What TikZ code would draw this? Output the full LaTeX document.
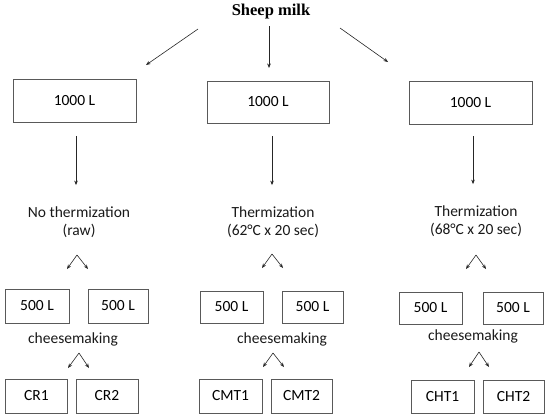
\documentclass[tikz,border=0pt]{standalone}
\usepackage{fontspec}
\setmainfont{Carlito}
\newfontfamily\titlefont{Liberation Serif}
\usetikzlibrary{arrows.meta, positioning}

\begin{document}
\begin{tikzpicture}[
        x=1bp, y=-1bp,
        >={Stealth[length=4.5bp, width=3.6bp]},
        font=\fontsize{15.5bp}{18.5bp}\selectfont,
        arr/.style={->, line width=0.6bp, draw=black!85},
        bigbox/.style={draw=black!65, line width=0.8bp, minimum width=123bp, minimum height=43bp, inner sep=0pt},
        halfbox/.style={draw=black!65, line width=0.8bp, minimum width=62bp, minimum height=33bp, inner sep=0pt},
        stage/.style={align=center, inner sep=0pt, text=black!90},
    ]
    \useasboundingbox (0,0) rectangle (550,418);

    % Nodes
    \node[font=\titlefont\bfseries\fontsize{16.5bp}{19bp}\selectfont] (milk) at (271,12) {Sheep milk};

    \node[bigbox] (tank1) at (74.5,101) {1000 L};
    \node[bigbox, minimum width=122bp, minimum height=42bp] (tank2) at (268,102) {1000 L};
    \node[bigbox] (tank3) at (470.5,102.5) {1000 L};

    \node[stage] (raw) at (79,222) {No thermization\\(raw)};
    \node[stage] (therm62) at (273,222) {Thermization\\(62°C x 20 sec)};
    \node[stage] (therm68) at (476,221) {Thermization\\(68°C x 20 sec)};

    \node[halfbox, minimum width=64bp, minimum height=34bp] (raw1) at (37,306) {500 L};
    \node[halfbox, minimum width=60bp, minimum height=34bp] (raw2) at (118,306) {500 L};
    \node[halfbox, minimum width=63bp, minimum height=32bp] (mt1) at (231.5,307) {500 L};
    \node[halfbox, minimum width=61bp, minimum height=32bp] (mt2) at (312.5,307) {500 L};
    \node[halfbox, minimum width=63bp, minimum height=32bp] (ht1) at (430.5,308) {500 L};
    \node[halfbox, minimum width=60bp, minimum height=32bp] (ht2) at (513,308) {500 L};

    \node[stage] (cm1) at (73,339) {cheesemaking};
    \node[stage] (cm2) at (282,339) {cheesemaking};
    \node[stage] (cm3) at (473,336) {cheesemaking};

    \node[halfbox, minimum height=34bp] (cr1) at (36.5,396) {CR1};
    \node[halfbox, minimum height=34bp] (cr2) at (107,396) {CR2};
    \node[halfbox, minimum width=63bp, minimum height=34bp] (cmt1) at (230.5,396) {CMT1};
    \node[halfbox, minimum width=61bp, minimum height=34bp] (cmt2) at (301.5,396) {CMT2};
    \node[halfbox, minimum width=63bp] (cht1) at (442.5,396.5) {CHT1};
    \node[halfbox, minimum width=61bp] (cht2) at (513.5,396.5) {CHT2};

    % Edges from the milk
    \coordinate (m1) at (198,29);
    \coordinate (m2) at (269,26);
    \coordinate (m3) at (340,28);
    \coordinate (e1) at (146,65);
    \coordinate (e2) at (269,68);
    \coordinate (e3) at (388,62);
    \draw[arr] (m1) -- (e1);
    \draw[arr] (m2) -- (e2);
    \draw[arr] (m3) -- (e3);

    % Tanks to treatment
    \draw[arr, shorten <=13bp, shorten >=21bp] ([xshift=1.5bp]tank1.south) -- ([xshift=1.5bp]tank1.south |- raw.north);
    \draw[arr, shorten <=13bp, shorten >=21bp] ([xshift=4bp]tank2.south) -- ([xshift=4bp]tank2.south |- therm62.north);
    \draw[arr, shorten <=12bp, shorten >=21bp] ([xshift=2.5bp]tank3.south) -- ([xshift=2.5bp]tank3.south |- therm68.north);

    % Splits into two vats
    \coordinate (s1) at (77,255);
    \coordinate (s2) at (272,254);
    \coordinate (s3) at (476,255);
    \draw[arr] (s1) -- ++(-10,14);
    \draw[arr] (s1) -- ++(11,14);
    \draw[arr] (s2) -- ++(-10,14);
    \draw[arr] (s2) -- ++(11,14);
    \draw[arr] (s3) -- ++(-10,14);
    \draw[arr] (s3) -- ++(10,14);

    % Splits into cheeses
    \coordinate (c1) at (79,353);
    \coordinate (c2) at (273,353);
    \coordinate (c3) at (479,352);
    \draw[arr] (c1) -- ++(-11,15);
    \draw[arr] (c1) -- ++(10,15);
    \draw[arr] (c2) -- ++(-10,14);
    \draw[arr] (c2) -- ++(11,14);
    \draw[arr] (c3) -- ++(-10,15);
    \draw[arr] (c3) -- ++(10,15);

\end{tikzpicture}
\end{document}
